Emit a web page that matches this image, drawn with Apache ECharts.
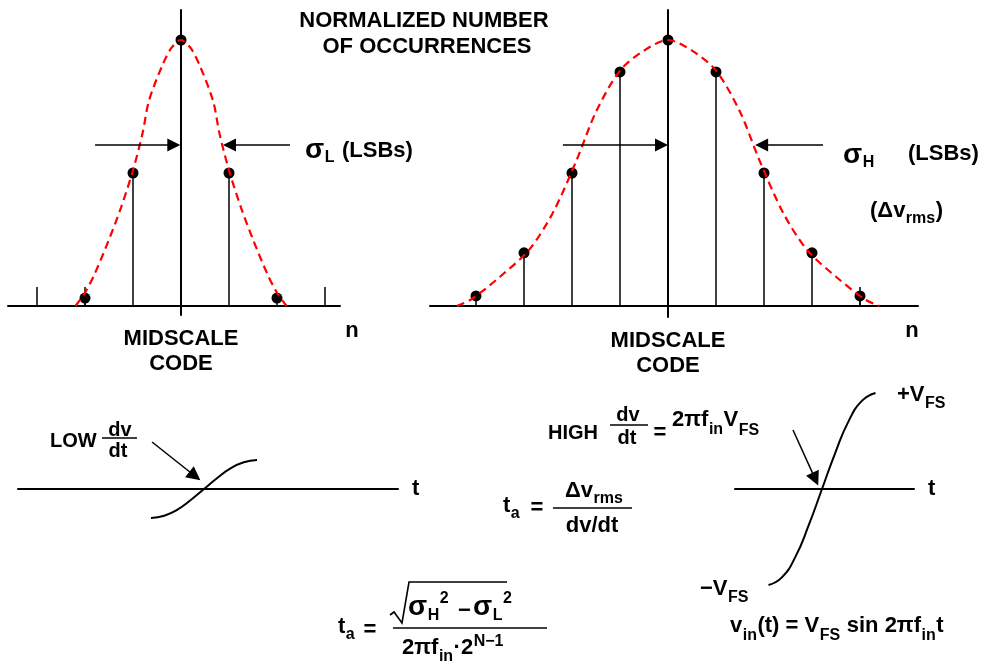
<!DOCTYPE html>
<html>
<head>
<meta charset="utf-8">
<script src="https://cdn.jsdelivr.net/npm/echarts@6/dist/echarts.min.js"></script>
<style>
  html, body { margin: 0; padding: 0; background: #fff; }
  #chart { width: 984px; height: 666px; }
</style>
</head>
<body>
<div id="chart"></div>
<script>
// histogram of codes, low frequency input (narrow)
var codesLow = [-2, -1, 0, 1, 2];
var occLow = [0.03, 0.5, 1, 0.5, 0.03];
// dashed gaussian
var curveLowN = [-2.2, -2, -1.8, -1.5, -1.25, -1, -0.8, -0.67, -0.4, -0.2, 0, 0.2, 0.4, 0.67, 0.8, 1, 1.25, 1.5, 1.8, 2, 2.2];
var curveLowY = [0, 0.05, 0.12, 0.25, 0.37, 0.51, 0.65, 0.77, 0.9, 0.97, 1, 0.97, 0.9, 0.77, 0.65, 0.51, 0.37, 0.25, 0.12, 0.05, 0];

// histogram of codes, high frequency input (wide)
var codesHigh = [-4, -3, -2, -1, 0, 1, 2, 3, 4];
var occHigh = [0.038, 0.2, 0.5, 0.88, 1, 0.88, 0.5, 0.2, 0.038];
var curveHighN = [-4.4, -4.1, -3.5, -2.9, -2.4, -1.9, -1.5, -1, -0.5, 0, 0.5, 1, 1.5, 1.9, 2.4, 2.9, 3.5, 4.1, 4.4];
var curveHighY = [0, 0.025, 0.11, 0.21, 0.35, 0.55, 0.73, 0.885, 0.96, 1, 0.96, 0.885, 0.73, 0.55, 0.35, 0.21, 0.11, 0.025, 0];

// one half period of the input sine
var sineT = [-1, -0.75, -0.5, -0.25, 0, 0.25, 0.5, 0.75, 1];
var sineV = [-1, -0.92, -0.71, -0.38, 0, 0.38, 0.71, 0.92, 1];

var tickLow = [-3, -2, 3];
var tickHigh = [4];

var FONT = '"Liberation Sans", Arial, sans-serif';
var B = 22, S = 16;

var ctx = document.createElement('canvas').getContext('2d');
function textWidth(s, size) {
    ctx.font = 'bold ' + size + 'px ' + FONT;
    return ctx.measureText(s).width;
}

function zip(a, b) {
    return a.map(function (v, i) { return [v, b[i]]; });
}

function txt(x, y, s, size, align) {
    return {
        type: 'text', x: x, y: y, silent: true,
        style: {
            text: s, fill: '#000', fontSize: size, fontWeight: 'bold', fontFamily: FONT,
            textAlign: align || 'left', textVerticalAlign: 'middle'
        }
    };
}

// a run of base text with sub/superscripts: parts are [text, size, dy]
function run(x, y, parts) {
    var cx = x;
    return parts.map(function (p) {
        var el = txt(cx, y + (p[2] || 0), p[0], p[1]);
        cx += textWidth(p[0], p[1]) + 0.5;
        return el;
    });
}

function seg(x1, y1, x2, y2, w) {
    return {type: 'line', silent: true, shape: {x1: x1, y1: y1, x2: x2, y2: y2},
        style: {stroke: '#000', lineWidth: w || 1.5}};
}

function arrow(from, to, size) {
    return [{coord: from, symbol: 'none'}, {coord: to, symbol: 'triangle', symbolSize: size || 13}];
}

var arrowLine = {
    silent: true, animation: false,
    label: {show: false},
    lineStyle: {color: '#000', width: 1.5, type: 'solid'},
    emphasis: {disabled: true}
};

// pixel layout of the four plots
var G = [
    {left: 8, top: 10, width: 332, height: 305, cx: 181, base: 306, ux: 48, uy: 266},
    {left: 430, top: 10, width: 488, height: 307, cx: 668, base: 306, ux: 48, uy: 266},
    {left: 18, top: 436, width: 380, height: 106, cx: 204, base: 489, ux: 53, uy: 29},
    {left: 735, top: 369, width: 179, height: 240, cx: 822, base: 489, ux: 53.5, uy: 96}
];

var xAxes = [], yAxes = [];
G.forEach(function (g, i) {
    var hist = i < 2;
    xAxes.push({
        type: 'value', gridIndex: i,
        min: (g.left - g.cx) / g.ux, max: (g.left + g.width - g.cx) / g.ux,
        axisLine: {onZero: true, lineStyle: {color: '#000', width: 2}},
        axisTick: hist ? {show: true, inside: true, length: 19, customValues: i === 0 ? tickLow : tickHigh,
            lineStyle: {color: '#000', width: 1.5}} : {show: false},
        axisLabel: hist ? {show: true, customValues: [0], margin: 11, formatter: function () { return 'MIDSCALE\nCODE'; },
            color: '#000', fontSize: B, fontWeight: 'bold', fontFamily: FONT, lineHeight: 25} : {show: false},
        splitLine: {show: false},
        name: hist ? '' : 't', nameLocation: 'end', nameGap: 14,
        nameTextStyle: {color: '#000', fontSize: B, fontWeight: 'bold', fontFamily: FONT}
    });
    yAxes.push({
        type: 'value', gridIndex: i, show: hist,
        min: (g.base - g.top - g.height) / g.uy, max: (g.base - g.top) / g.uy,
        axisLine: {onZero: true, lineStyle: {color: '#000', width: 2}},
        axisTick: {show: false}, axisLabel: {show: false}, splitLine: {show: false}
    });
});

var labels = [].concat(
    [txt(424, 21, 'NORMALIZED NUMBER', B, 'center'), txt(427, 47, 'OF OCCURRENCES', B, 'center')],
    // sigma L / sigma H
    run(305, 150, [['σ', 28], ['L', S, 8]]), [txt(342, 151, '(LSBs)', B)],
    run(843, 155, [['σ', 28], ['H', S, 8]]), [txt(908, 154, '(LSBs)', B)],
    run(870, 211, [['(Δv', B], ['rms', S, 8], [')', B]]),
    [txt(352, 331, 'n', B, 'center'), txt(912, 331, 'n', B, 'center')],
    // LOW dv/dt
    [txt(50, 441, 'LOW', 20), txt(120, 430, 'dv', 20, 'center'), seg(102, 438, 137, 438), txt(118, 451, 'dt', 20, 'center')],
    // HIGH dv/dt = 2 pi f_in V_FS
    [txt(548, 433, 'HIGH', 20), txt(628, 415, 'dv', 20, 'center'), seg(610, 425, 648, 425), txt(627, 438, 'dt', 20, 'center'),
        txt(660, 433, '=', B, 'center')],
    run(672, 420, [['2πf', B], ['in', S, 10], ['V', B], ['FS', S, 11]]),
    // ta = dv_rms / (dv/dt)
    run(503, 506, [['t', B], ['a', S, 8]]), [txt(537, 508, '=', B, 'center')],
    run(565, 491, [['Δv', B], ['rms', S, 8]]), [seg(553, 508, 632, 508), txt(592, 526, 'dv/dt', B, 'center')],
    // ta = sqrt(sH^2 - sL^2) / (2 pi f_in 2^(N-1))
    run(338, 627, [['t', B], ['a', S, 8]]), [txt(370, 630, '=', B, 'center')],
    [{type: 'polyline', silent: true, shape: {points: [[390, 615], [394, 612], [402, 623], [409, 582], [507, 582]]},
        style: {stroke: '#000', lineWidth: 1.6, fill: null}}],
    run(408, 607, [['σ', 28], ['H', S, 9], ['2', S, -8]]),
    [txt(458, 611, '−', B)],
    run(473, 607, [['σ', 28], ['L', S, 9], ['2', S, -8]]),
    [seg(393, 628, 547, 628)],
    run(402, 648, [['2πf', B], ['in', S, 9], ['·2', B], ['N−1', S, -6]]),
    // sine amplitude labels
    run(897, 395, [['+V', B], ['FS', S, 9]]),
    run(700, 589, [['−V', B], ['FS', S, 9]]),
    // v_in(t) = V_FS sin 2 pi f_in t
    run(730, 626, [['v', B], ['in', S, 10], ['(t) = V', B], ['FS', S, 10], [' sin 2πf', B], ['in', S, 10], ['t', B]])
);

var option = {
    animation: false,
    backgroundColor: '#fff',
    grid: G.map(function (g) { return {left: g.left, top: g.top, width: g.width, height: g.height, containLabel: false}; }),
    xAxis: xAxes,
    yAxis: yAxes,
    series: [
        {
            type: 'line', xAxisIndex: 0, yAxisIndex: 0, data: zip(curveLowN, curveLowY),
            smooth: 0.3, showSymbol: false, silent: true, clip: false,
            lineStyle: {color: '#f00', width: 2.2, type: [8, 5]},
            markLine: Object.assign({data: [arrow([-1.79, 0.605], [-0.15, 0.605]), arrow([2.27, 0.605], [1.01, 0.605])]}, arrowLine)
        },
        {
            type: 'bar', xAxisIndex: 0, yAxisIndex: 0, data: zip(codesLow, occLow),
            barWidth: 1.5, itemStyle: {color: '#000'}, silent: true
        },
        {
            type: 'scatter', xAxisIndex: 0, yAxisIndex: 0, data: zip(codesLow, occLow),
            symbolSize: 11, itemStyle: {color: '#000', opacity: 1}, silent: true
        },
        {
            type: 'line', xAxisIndex: 1, yAxisIndex: 1, data: zip(curveHighN, curveHighY),
            smooth: 0.3, showSymbol: false, silent: true, clip: false,
            lineStyle: {color: '#f00', width: 2.2, type: [8, 5]},
            markLine: Object.assign({data: [arrow([-2.19, 0.605], [-0.135, 0.605]), arrow([3.23, 0.605], [1.95, 0.605])]}, arrowLine)
        },
        {
            type: 'bar', xAxisIndex: 1, yAxisIndex: 1, data: zip(codesHigh, occHigh),
            barWidth: 1.5, itemStyle: {color: '#000'}, silent: true
        },
        {
            type: 'scatter', xAxisIndex: 1, yAxisIndex: 1, data: zip(codesHigh, occHigh),
            symbolSize: 11, itemStyle: {color: '#000', opacity: 1}, silent: true
        },
        {
            type: 'line', xAxisIndex: 2, yAxisIndex: 2, data: zip(sineT, sineV),
            smooth: 0.5, showSymbol: false, silent: true, clip: false,
            lineStyle: {color: '#000', width: 2},
            markLine: Object.assign({data: [arrow([-0.98, 1.62], [-0.172, 0.448], 14)]}, arrowLine)
        },
        {
            type: 'line', xAxisIndex: 3, yAxisIndex: 3, data: zip(sineT, sineV),
            smooth: 0.5, showSymbol: false, silent: true, clip: false,
            lineStyle: {color: '#000', width: 2},
            markLine: Object.assign({data: [arrow([-0.542, 0.615], [-0.125, 0.103], 14)]}, arrowLine)
        }
    ],
    graphic: {elements: labels}
};

var chart = echarts.init(document.getElementById('chart'));
chart.setOption(option);
</script>
</body>
</html>
